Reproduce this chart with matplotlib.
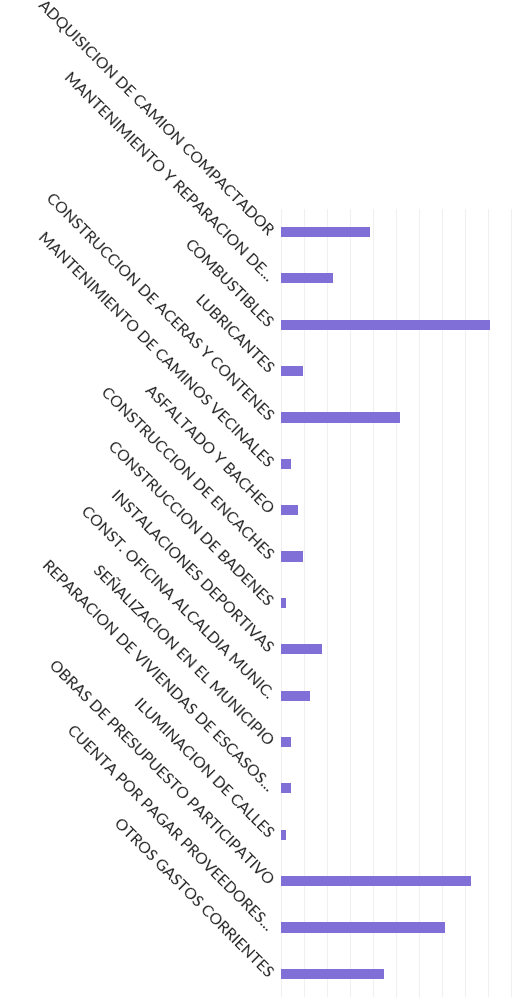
import numpy as np
import matplotlib.pyplot as plt

# partidas del presupuesto
categorias = [
    'ADQUISICION DE CAMION COMPACTADOR',
    'MANTENIMIENTO Y REPARACION DE...',
    'COMBUSTIBLES',
    'LUBRICANTES',
    'CONSTRUCCION DE ACERAS Y CONTENES',
    'MANTENIMIENTO DE CAMINOS VECINALES',
    'ASFALTADO Y BACHEO',
    'CONSTRUCCION DE ENCACHES',
    'CONSTRUCCION DE BADENES',
    'INSTALACIONES DEPORTIVAS',
    'CONST. OFICINA ALCALDIA MUNIC.',
    'SEÑALIZACION EN EL MUNICIPIO',
    'REPARACION DE VIVIENDAS DE ESCASOS...',
    'ILUMINACION DE CALLES',
    'OBRAS DE PRESUPUESTO PARTICIPATIVO',
    'CUENTA POR PAGAR PROVEEDORES...',
    'OTROS GASTOS CORRIENTES',
]
montos = [3.87, 2.26, 9.09, 0.96, 5.17, 0.43, 0.74, 0.96, 0.22,
          1.78, 1.26, 0.43, 0.43, 0.22, 8.26, 7.13, 4.48]

plt.rcParams['font.family'] = ['Lato', 'DejaVu Sans']

fig = plt.figure(figsize=(5.29, 10.04), dpi=100)
ax = fig.add_axes([0.531, 0.006, 0.452, 0.785])

y = np.arange(len(categorias))
ax.barh(y, montos, height=0.22, color='#7f6fd6')
ax.set_ylim(len(categorias) - 0.5, -0.5)
ax.set_xlim(0, 10.4)

ax.set_yticks(y)
ax.set_yticklabels(categorias, rotation=-45, ha='right', va='center',
                   rotation_mode='anchor', fontsize=11.3, color='#222222')
ax.tick_params(axis='y', length=0, pad=8)
ax.set_xticks(np.arange(0, 11, 1))
ax.tick_params(axis='x', length=0, labelbottom=False)
ax.grid(axis='x', color='#f0f0f0', linewidth=0.8)
ax.set_axisbelow(True)
for s in ax.spines.values():
    s.set_visible(False)

fig.savefig('out.png', dpi=100)
